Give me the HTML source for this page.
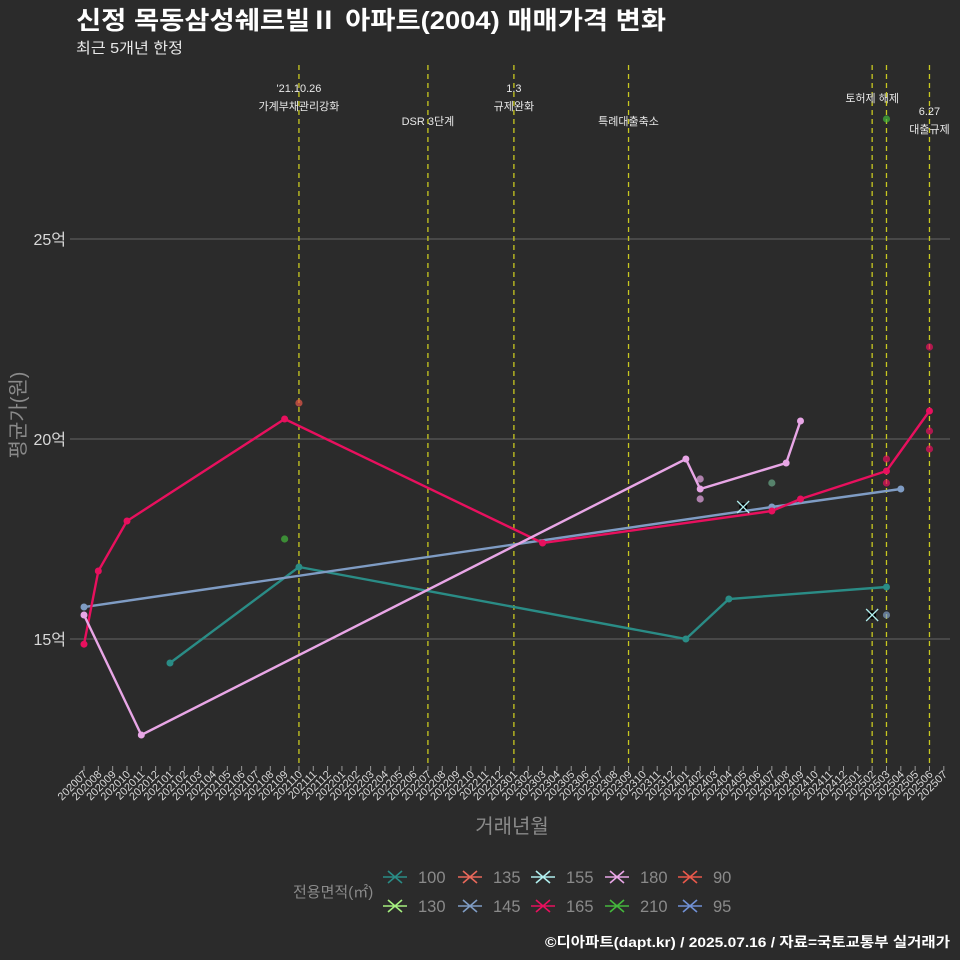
<!DOCTYPE html>
<html><head><meta charset="utf-8"><style>
body{margin:0;background:#2b2b2b;}
svg{display:block;font-family:"Liberation Sans","Noto Sans CJK KR",sans-serif;}
</style></head><body>
<svg id="c" width="960" height="960" xmlns="http://www.w3.org/2000/svg">
<rect width="960" height="960" fill="#2b2b2b"/>
<text x="76" y="29" fill="#fff" font-size="25" font-weight="bold" textLength="590" lengthAdjust="spacingAndGlyphs">신정 목동삼성쉐르빌Ⅱ 아파트(2004) 매매가격 변화</text>
<text x="76" y="53" fill="#e8e8e8" font-size="15" textLength="107" lengthAdjust="spacingAndGlyphs">최근 5개년 한정</text>
<g id="grid"></g><g id="events"></g><g id="series"></g><g id="xaxis"></g>
<text transform="translate(25,415) rotate(-90)" text-anchor="middle" fill="#8a8a8a" font-size="20">평균가(원)</text>
<text x="512" y="833" text-anchor="middle" fill="#8a8a8a" font-size="20">거래년월</text>
<text x="293" y="897" fill="#8a8a8a" font-size="15">전용면적(㎡)</text>
<g id="legend"></g>
<text x="545" y="947" fill="#fff" font-size="14" font-weight="bold" textLength="405" lengthAdjust="spacingAndGlyphs">©디아파트(dapt.kr) / 2025.07.16 / 자료=국토교통부 실거래가</text>
</svg>
<script>
const months=[];for(let y=2020,m=7;!(y===2025&&m===8);){months.push(y+String(m).padStart(2,'0'));m++;if(m>12){m=1;y++;}}
const yTicks=[15,20,25];
const yTickLabels=['15억','20억','25억'];
const lineSeries={
 '100':[['202101',14.4],['202110',16.8],['202401',15.0],['202404',16.0],['202503',16.3]],
 '145':[['202007',15.8],['202407',18.3],['202504',18.75]],
 '180':[['202007',15.6],['202011',12.6],['202401',19.5],['202402',18.75],['202408',19.4],['202409',20.45]],
 '165':[['202007',14.87],['202008',16.7],['202010',17.95],['202109',20.5],['202303',17.4],['202407',18.2],['202409',18.5],['202503',19.2],['202506',20.7]]
};
const scatterPts=[['90','202110',20.9],['210','202109',17.5],['210','202503',28.0],['130','202407',18.9],['180','202402',19.0],['180','202402',18.5],['165','202503',19.5],['165','202503',18.9],['165','202506',22.3],['165','202506',20.2],['165','202506',19.75],['145','202503',15.6]];
const crossPts=[['155','202405',18.3],['155','202502',15.6]];
const events=[['202110',["'21.10.26","가계부채관리강화"],88],['202207',["DSR 3단계"],121],['202301',["1.3","규제완화"],88],['202309',["특례대출축소"],121],['202502',["토허제 해제"],98],['202503',[],0],['202506',["6.27","대출규제"],111]];
const colors={'100':'#2a8c86','135':'#e8685a','155':'#b0eeee','180':'#e8a6e6','90':'#e8584a','130':'#a6f080','145':'#7f9cc4','165':'#e8105e','210':'#44b83c','95':'#7090d4'};
const legendOrder=[['100','135','155','180','90'],['130','145','165','210','95']];
const NS='http://www.w3.org/2000/svg';
const X=m=>84+14.33*months.indexOf(m);
const Y=v=>639-(v-15)*40;
function mk(p,t,a){const e=document.createElementNS(NS,t);for(const k in a)e.setAttribute(k,a[k]);p.appendChild(e);return e;}
const G=id=>document.getElementById(id);
yTicks.forEach((v,i)=>{const l=mk(G('grid'),'line',{x1:70,x2:950,y1:Y(v),y2:Y(v),stroke:'#5a5a5a','stroke-width':1.2});


const t=mk(G('grid'),'text',{x:66,y:Y(v)+6,'text-anchor':'end',fill:'#d8d8d8','font-size':16});t.textContent=yTickLabels[i];

});
events.forEach(ev=>{const x=X(ev[0]);const l=mk(G('events'),'line',{x1:x,x2:x,y1:65,y2:765,stroke:'#c8c820','stroke-width':1.3,'stroke-dasharray':'5,4'});


ev[1].forEach((s,j)=>{const t=mk(G('events'),'text',{x:x,y:ev[2]+j*18+4,'text-anchor':'middle',fill:'#e8e8e8','font-size':11});t.textContent=s;

});});
for(const k in lineSeries){const pts=lineSeries[k];const p=mk(G('series'),'polyline',{points:pts.map(d=>X(d[0])+','+Y(d[1])).join(' '),fill:'none',stroke:colors[k],'stroke-width':2.4});


pts.forEach(d=>{const c=mk(G('series'),'circle',{cx:X(d[0]),cy:Y(d[1]),r:3.5,fill:colors[k]});

});}
scatterPts.forEach(d=>{const c=mk(G('series'),'circle',{cx:X(d[1]),cy:Y(d[2]),r:3.6,fill:d[0]==='130'?'#6aa888':colors[d[0]],opacity:0.7});

});
crossPts.forEach(d=>{const x=X(d[1]),y=Y(d[2]);const g=mk(G('series'),'g',{});


mk(g,'circle',{cx:x,cy:y,r:4,fill:'#000'});
mk(g,'path',{d:`M${x-6},${y-6}L${x+6},${y+6}M${x-6},${y+6}L${x+6},${y-6}`,stroke:colors[d[0]],'stroke-width':1.3});});
months.forEach(m=>{const x=X(m);const t=mk(G('xaxis'),'line',{x1:x,x2:x,y1:766,y2:771,stroke:'#999'});


const l=mk(G('xaxis'),'text',{transform:`translate(${x+4},775) rotate(-45)`,'text-anchor':'end',fill:'#d8d8d8','font-size':11});l.textContent=m;

});
const lx=[395,470,543,617,690],ly=[877,906];
legendOrder.forEach((row,r)=>row.forEach((k,c)=>{const g=mk(G('legend'),'g',{});


const x=lx[c],y=ly[r];
mk(g,'path',{d:`M${x-12},${y}L${x+12},${y}M${x-7},${y-6}L${x+7},${y+6}M${x-7},${y+6}L${x+7},${y-6}`,stroke:colors[k],'stroke-width':1.6});
const t=mk(g,'text',{x:x+23,y:y+6,fill:'#8a8a8a','font-size':16.5});t.textContent=k;}));
</script>
</body></html>
